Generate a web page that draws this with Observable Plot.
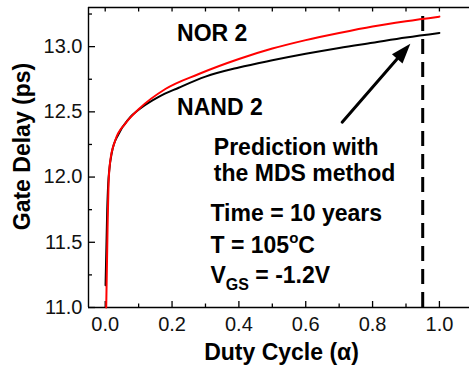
<!DOCTYPE html>
<html><head><meta charset="utf-8">
<script src="https://cdn.jsdelivr.net/npm/d3@7"></script>
<script src="https://cdn.jsdelivr.net/npm/@observablehq/plot@0.6"></script>
<style>body{margin:0;background:#fff} svg{display:block}</style>
</head><body><div id="chart"></div>
<script>
// NAND 2 (black)
const nandX = [0.001, 0.006, 0.009, 0.012, 0.02, 0.04, 0.07, 0.11, 0.16, 0.22, 0.3, 0.4, 0.5, 0.6, 0.7, 0.8, 0.9, 1.0];
const nandY = [11.17, 11.75, 11.95, 12.05, 12.19, 12.33, 12.445, 12.535, 12.615, 12.685, 12.77, 12.84, 12.895, 12.945, 12.99, 13.03, 13.07, 13.105];
// NOR 2 (red)
const norX = [0.003, 0.007, 0.010, 0.015, 0.03, 0.06, 0.1, 0.18, 0.28, 0.4, 0.5, 0.6, 0.7, 0.8, 0.9, 1.0];
const norY = [11.0, 11.6, 11.95, 12.12, 12.28, 12.41, 12.52, 12.675, 12.79, 12.905, 12.985, 13.05, 13.105, 13.155, 13.195, 13.23];

const xMajorTicks = [0, 0.2, 0.4, 0.6, 0.8, 1.0];
const xMinorTicks = [0.1, 0.3, 0.5, 0.7, 0.9];
const yMajorTicks = [11, 11.5, 12, 12.5, 13];
const yMinorTicks = [11.25, 11.75, 12.25, 12.75, 13.25];

const predictionX = 0.95;
const predictionRange = [11, 13.24];
const arrowFrom = [0.709, 12.421];
const arrowTo = [0.913, 13.022];

const labelText = ["NOR 2", "NAND 2", "Prediction with", "the MDS method", "Time = 10 years", "T = 105°C", "VGS = -1.2V"];
const labelX = [0.215, 0.215, 0.325, 0.325, 0.315, 0.315, 0.315];
const labelY = [13.098, 12.536, 12.229, 12.025, 11.718, 11.475, 11.2415];

const xTitle = "Duty Cycle (α)";
const yTitle = "Gate Delay (ps)";

const W = 469, H = 365, mL = 88, mR = 0, mT = 7, mB = 58;
const xDomain = [-0.05, 1.09], yDomain = [11, 13.3];

const nand = nandX.map((x, i) => ({x, y: nandY[i]}));
const nor = norX.map((x, i) => ({x, y: norY[i]}));
const labels = labelText.map((t, i) => ({t, x: labelX[i], y: labelY[i]}));

const xs = Plot.scale({x: {domain: xDomain, range: [mL, W - mR]}});
const ys = Plot.scale({y: {domain: yDomain, range: [H - mB, mT]}});
const dxp = xs.apply(arrowTo[0]) - xs.apply(arrowFrom[0]);
const dyp = ys.apply(arrowTo[1]) - ys.apply(arrowFrom[1]);
const headAngle = Math.atan2(dxp, -dyp) * 180 / Math.PI;

const font = "'Liberation Sans', Arial, sans-serif";

const chart = Plot.plot({
  width: W, height: H,
  marginLeft: mL, marginRight: mR, marginTop: mT, marginBottom: mB,
  style: {fontFamily: font, background: "#fff", color: "#000"},
  x: {domain: xDomain},
  y: {domain: yDomain},
  marks: [
    Plot.ruleX([xDomain[0]], {strokeWidth: 1.4}),
    Plot.ruleY(yDomain, {strokeWidth: 1.4}),
    Plot.axisX(xMajorTicks, {tickSize: -6, fill: "none", label: null, strokeWidth: 1.3}),
    Plot.axisX(xMinorTicks, {tickSize: -3.5, fill: "none", label: null, strokeWidth: 1.3}),
    Plot.axisX(xMajorTicks.concat(xMinorTicks), {anchor: "top", tickSize: -3.5, fill: "none", label: null, strokeWidth: 1.3}),
    Plot.axisX(xMajorTicks, {tickSize: 0, tickPadding: 9, tickFormat: ".1f", fontSize: 20, label: null, fill: "#111"}),
    Plot.axisY(yMajorTicks, {tickSize: -7, fill: "none", label: null, strokeWidth: 1.3}),
    Plot.axisY(yMinorTicks, {tickSize: -4, fill: "none", label: null, strokeWidth: 1.3}),
    Plot.axisY(yMajorTicks, {tickSize: 0, tickPadding: 6, tickFormat: ".1f", fontSize: 20, label: null, fill: "#111"}),
    Plot.ruleX([predictionX], {y1: predictionRange[0], y2: predictionRange[1], strokeWidth: 3, strokeDasharray: "15,8", stroke: "#000"}),
    Plot.line(nand, {x: "x", y: "y", stroke: "#000", strokeWidth: 2, curve: "monotone-x"}),
    Plot.line(nor, {x: "x", y: "y", stroke: "#ff0000", strokeWidth: 2, curve: "monotone-x"}),
    Plot.arrow([{x1: arrowFrom[0], y1: arrowFrom[1], x2: arrowTo[0], y2: arrowTo[1]}],
      {x1: "x1", y1: "y1", x2: "x2", y2: "y2", headLength: 0, insetEnd: 12, strokeWidth: 3, stroke: "#000"}),
    Plot.vector([{x: arrowTo[0], y: arrowTo[1]}],
      {x: "x", y: "y", length: 20, rotate: headAngle, shape: "spike", r: 7, anchor: "end", fill: "#000", stroke: "none"}),
    Plot.text(labels, {x: "x", y: "y", text: "t", textAnchor: "start", fontSize: 23, fontWeight: "bold", fill: "#000"}),
    Plot.text([xTitle], {frameAnchor: "bottom", textAnchor: "middle", lineAnchor: "middle", dx: 2.5, dy: 44.7, fontSize: 23, fontWeight: "bold", fill: "#000"}),
    Plot.text([yTitle], {frameAnchor: "left", textAnchor: "middle", lineAnchor: "middle", rotate: -90, dx: -66, dy: -11, fontSize: 23, fontWeight: "bold", fill: "#000"})
  ]
});

d3.select(chart).selectAll("text").each(function() {
  const s = this.textContent;
  const el = d3.select(this);
  if (s === "T = 105°C") {
    el.text("");
    el.append("tspan").text("T = 105");
    el.append("tspan").attr("font-size", 15).attr("dy", -10).text("o");
    el.append("tspan").attr("dy", 10).text("C");
  } else if (s === "VGS = -1.2V") {
    el.text("");
    el.append("tspan").text("V");
    el.append("tspan").attr("font-size", 16).attr("dy", 7).text("GS");
    el.append("tspan").attr("dy", -7).text(" = -1.2V");
  }
});

document.getElementById("chart").appendChild(chart);
</script>
</body></html>
